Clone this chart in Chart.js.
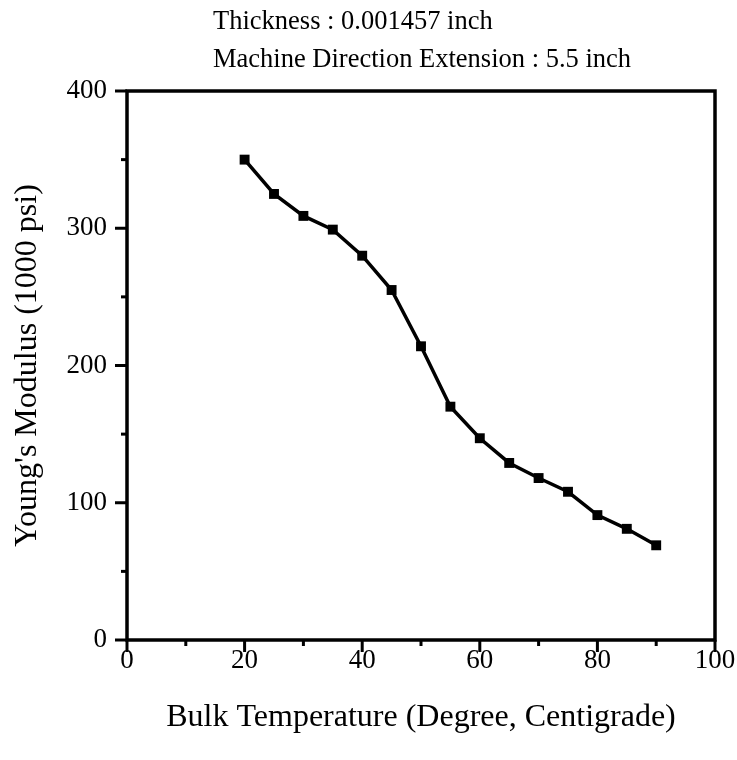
<!DOCTYPE html>
<html>
<head>
<meta charset="utf-8">
<script src="https://cdn.jsdelivr.net/npm/chart.js@4"></script>
<style>
  body { margin: 0; background: #fff; }
  #wrap { position: relative; width: 737px; height: 760px; }
  #notes {
    position: absolute; left: 213px; top: 1px;
    font-family: "Liberation Serif", serif; font-size: 26.5px; line-height: 38px;
    color: #000;
  }
</style>
</head>
<body>
<div id="wrap">
  <canvas id="chart" width="737" height="760"></canvas>
  <div id="notes">Thickness : 0.001457 inch<br>Machine Direction Extension : 5.5 inch</div>
</div>
<script>
// values
const temperature = [20, 25, 30, 35, 40, 45, 50, 55, 60, 65, 70, 75, 80, 85, 90];
const modulus = [350, 325, 309, 299, 280, 255, 214, 170, 147, 129, 118, 108, 91, 81, 69];

const xMajor = [0, 20, 40, 60, 80, 100];
const yMajor = [0, 100, 200, 300, 400];

const serif = '"Liberation Serif", "Times New Roman", serif';

// frame on all four sides plus outward major/minor tick marks
const framePlugin = {
  id: 'frame',
  afterDatasetsDraw(chart) {
    const { ctx, chartArea: a, scales } = chart;
    ctx.save();
    ctx.strokeStyle = '#000';
    ctx.lineWidth = 3.5;
    ctx.strokeRect(a.left, a.top, a.right - a.left, a.bottom - a.top);
    ctx.lineWidth = 3;
    for (let v = 0; v <= 100; v += 10) {
      const x = scales.x.getPixelForValue(v);
      const len = xMajor.includes(v) ? 12 : 6;
      ctx.beginPath();
      ctx.moveTo(x, a.bottom);
      ctx.lineTo(x, a.bottom + len);
      ctx.stroke();
    }
    for (let v = 0; v <= 400; v += 50) {
      const y = scales.y.getPixelForValue(v);
      const len = yMajor.includes(v) ? 12 : 6;
      ctx.beginPath();
      ctx.moveTo(a.left, y);
      ctx.lineTo(a.left - len, y);
      ctx.stroke();
    }
    ctx.restore();
  }
};

new Chart(document.getElementById('chart'), {
  type: 'line',
  data: {
    datasets: [{
      data: temperature.map((t, i) => ({ x: t, y: modulus[i] })),
      borderColor: '#000',
      backgroundColor: '#000',
      borderWidth: 3.5,
      tension: 0,
      pointStyle: 'rect',
      pointRadius: 7,
      pointBorderWidth: 0
    }]
  },
  options: {
    responsive: false,
    animation: false,
    layout: { padding: { top: 91, right: 22, left: 0, bottom: 0 } },
    plugins: { legend: { display: false }, tooltip: { enabled: false } },
    scales: {
      x: {
        type: 'linear', min: 0, max: 100,
        afterFit: (s) => { s.height = 120; s.paddingLeft = 0; s.paddingRight = 0; },
        grid: { display: false, drawTicks: false },
        border: { display: false },
        ticks: {
          stepSize: 20, padding: 5, color: '#000',
          font: { family: serif, size: 27 },
          maxRotation: 0
        },
        title: {
          display: true, text: 'Bulk Temperature (Degree, Centigrade)',
          color: '#000', font: { family: serif, size: 32 },
          padding: { top: 0, bottom: 23 }
        }
      },
      y: {
        type: 'linear', min: 0, max: 400,
        afterFit: (s) => { s.width = 127; s.paddingTop = 0; s.paddingBottom = 0; },
        grid: { display: false, drawTicks: false },
        border: { display: false },
        ticks: {
          stepSize: 100, padding: 20, color: '#000',
          font: { family: serif, size: 27 }
        },
        title: {
          display: true, text: "Young's Modulus (1000 psi)",
          color: '#000', font: { family: serif, size: 32 },
          padding: { top: 8, bottom: 0 }
        }
      }
    }
  },
  plugins: [framePlugin]
});
</script>
</body>
</html>
